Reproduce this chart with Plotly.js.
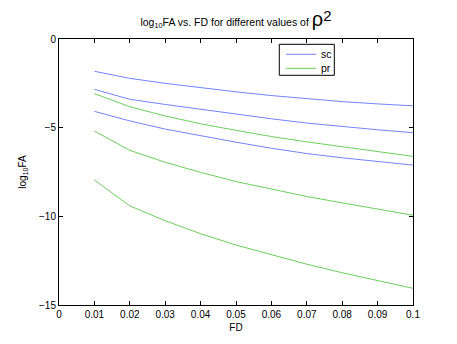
<!DOCTYPE html>
<html>
<head>
<meta charset="utf-8">
<script src="https://cdn.plot.ly/plotly-3.0.1.min.js"></script>
<style>
  html, body { margin: 0; padding: 0; background: #fff; }
  #chart { width: 457px; height: 344px; }
</style>
</head>
<body>
<div id="chart"></div>
<script>
// false-detection rates on the x axis
const fd = [0.01, 0.02, 0.03, 0.04, 0.05, 0.06, 0.07, 0.08, 0.09, 0.1];

// log10 FA, "sc" curves (blue), one per rho^2
const sc1 = [-1.82, -2.22, -2.50, -2.75, -2.98, -3.19, -3.37, -3.53, -3.66, -3.77];
const sc2 = [-2.84, -3.40, -3.69, -3.97, -4.25, -4.50, -4.74, -4.94, -5.12, -5.28];
const sc3 = [-4.08, -4.62, -5.08, -5.46, -5.82, -6.16, -6.46, -6.70, -6.92, -7.11];

// log10 FA, "pr" curves (green)
const pr1 = [-3.08, -3.82, -4.34, -4.78, -5.15, -5.50, -5.80, -6.07, -6.34, -6.62];
const pr2 = [-5.19, -6.28, -6.95, -7.52, -8.04, -8.48, -8.88, -9.24, -9.59, -9.94];
const pr3 = [-7.95, -9.41, -10.25, -10.98, -11.62, -12.18, -12.70, -13.18, -13.63, -14.06];

const legendNames = ['sc', 'pr'];

const xTicks = [0, 0.01, 0.02, 0.03, 0.04, 0.05, 0.06, 0.07, 0.08, 0.09, 0.1];
const xTickText = ['0', '0.01', '0.02', '0.03', '0.04', '0.05', '0.06', '0.07', '0.08', '0.09', '0.1'];
const yTicks = [0, -5, -10, -15];
const yTickText = ['0', '\u22125', '\u221210', '\u221215'];

const blue = '#7383ff';
const green = '#6ccf5c';

function line(y, color) {
  return {
    x: fd, y: y, mode: 'lines', showlegend: false,
    line: { width: 1, color: color },
  };
}

const traces = [
  line(sc1, blue), line(sc2, blue), line(sc3, blue),
  line(pr1, green), line(pr2, green), line(pr3, green),
];

// hand-made MATLAB style legend box (plotly's own legend rows are too tall)
const legendColors = [blue, green];
const legendRowY = [0.9425, 0.8898];
const legendShapes = [{
  type: 'rect', xref: 'paper', yref: 'paper',
  x0: 0.6223, x1: 0.7777, y0: 0.8635, y1: 0.980,
  line: { color: '#000', width: 1 }, fillcolor: '#fff', layer: 'above',
}];
const legendText = [];
legendNames.forEach((name, i) => {
  legendShapes.push({
    type: 'line', xref: 'paper', yref: 'paper',
    x0: 0.6412, x1: 0.7260, y0: legendRowY[i], y1: legendRowY[i],
    line: { color: legendColors[i], width: 1 }, layer: 'above',
  });
  legendText.push({
    xref: 'paper', yref: 'paper', x: 0.7335, y: legendRowY[i],
    xanchor: 'left', yanchor: 'middle', showarrow: false,
    text: name, font: { size: 10.5, color: '#000' },
  });
});

const axisCommon = {
  showline: true, linecolor: '#000', linewidth: 1, mirror: 'ticks',
  ticks: 'inside', ticklen: 4, tickcolor: '#000', tickwidth: 1,
  showgrid: false, zeroline: false,
  tickfont: { size: 10, color: '#000' },
};

const layout = {
  width: 457, height: 344,
  margin: { l: 59, r: 44, t: 39, b: 39 },
  font: { family: 'Liberation Sans, Arial, sans-serif', size: 10, color: '#000' },
  title: {
    text: 'log<sub>10</sub>FA vs. FD for different values of <span style="font-size:20px">\u03c1</span><sup><span style="font-size:15px">2</span></sup>',
    font: { size: 10.5, color: '#000' },
    x: 0.5163, xanchor: 'center', y: 0.925, yanchor: 'bottom',
  },
  xaxis: Object.assign({}, axisCommon, {
    range: [0, 0.1], tickvals: xTicks, ticktext: xTickText,
    title: { text: 'FD', font: { size: 10 }, standoff: 4 },
  }),
  yaxis: Object.assign({}, axisCommon, {
    range: [-15, 0], tickvals: yTicks, ticktext: yTickText,
    title: { text: 'log<sub>10</sub>FA', font: { size: 10 }, standoff: 10 },
  }),
  shapes: legendShapes,
  annotations: legendText,
  showlegend: false,
  plot_bgcolor: '#fff',
  paper_bgcolor: '#fff',
};

Plotly.newPlot('chart', traces, layout, { staticPlot: true });
</script>
</body>
</html>
